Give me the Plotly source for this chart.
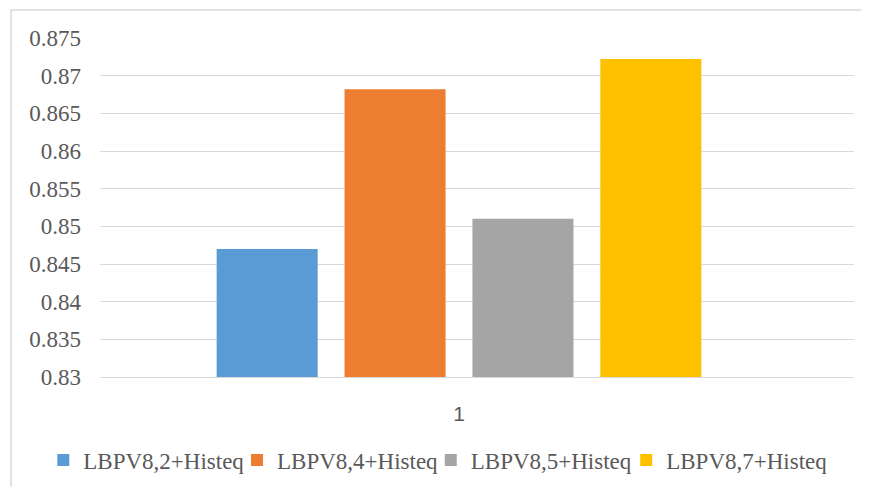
import plotly.graph_objects as go

categories = ["1"]
series_names = ["LBPV8,2+Histeq", "LBPV8,4+Histeq", "LBPV8,5+Histeq", "LBPV8,7+Histeq"]
series_values = [[0.8470], [0.8682], [0.8510], [0.8722]]
colors = ["#5B9BD5", "#ED7D31", "#A5A5A5", "#FFC000"]
y_ticks = [0.83, 0.835, 0.84, 0.845, 0.85, 0.855, 0.86, 0.865, 0.87, 0.875]
y_ticktext = ["0.83", "0.835", "0.84", "0.845", "0.85", "0.855", "0.86", "0.865", "0.87", "0.875"]

SERIF = "Liberation Serif"
legend_ids = ["legend", "legend2", "legend3", "legend4"]
legend_x = [0.041, 0.266, 0.491, 0.718]

fig = go.Figure()
for name, vals, col, lid in zip(series_names, series_values, colors, legend_ids):
    fig.add_trace(go.Bar(x=categories, y=vals, name=name, legend=lid,
                         marker=dict(color=col, line=dict(width=0))))

legend_common = dict(orientation="h", xref="container", yref="container",
                     xanchor="left", y=0.0564, yanchor="middle",
                     font=dict(family=SERIF, size=23, color="#595959"),
                     itemwidth=30, bgcolor="rgba(0,0,0,0)")
legends = {lid: dict(legend_common, x=lx) for lid, lx in zip(legend_ids, legend_x)}

fig.update_layout(
    width=861, height=479,
    margin=dict(l=92, r=15, t=30, b=110, autoexpand=False),
    paper_bgcolor="white", plot_bgcolor="white",
    barmode="group", bargap=0.2, bargroupgap=0.21,
    font=dict(family=SERIF, color="#595959", size=23),
    showlegend=True,
    xaxis=dict(type="category", range=[-0.5614, 0.6177], showgrid=False, zeroline=False,
               showline=True, linecolor="#D9D9D9", linewidth=1, ticks="",
               tickfont=dict(family="Liberation Sans", size=21, color="#595959"),
               ticklabelstandoff=18),
    yaxis=dict(range=[0.83, 0.875], tickvals=y_ticks, ticktext=y_ticktext,
               showgrid=True, gridcolor="#D9D9D9", gridwidth=1, zeroline=False,
               showline=False, ticks="", ticklabelstandoff=18,
               tickfont=dict(family="Times New Roman", size=23, color="#595959")),
    shapes=[dict(type="rect", xref="paper", yref="paper", x0=-0.118, x1=1.03, y0=-0.34, y1=1.0825,
                 line=dict(color="#D9D9D9", width=1.5), fillcolor="rgba(0,0,0,0)", layer="below")],
    **legends,
)

fig.write_html("out.html")
